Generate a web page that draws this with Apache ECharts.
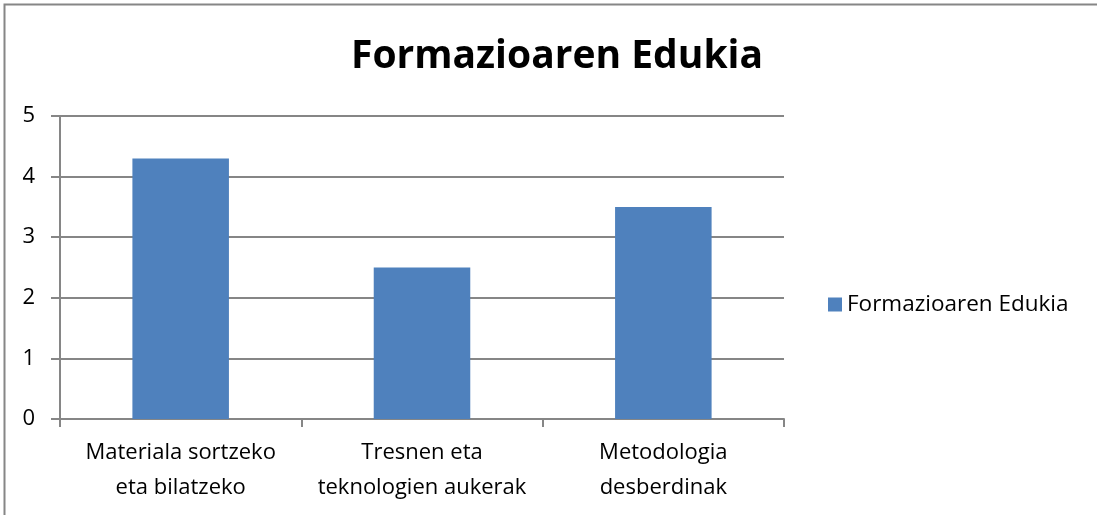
<!DOCTYPE html>
<html>
<head>
<meta charset="utf-8">
<script src="https://cdn.jsdelivr.net/npm/echarts@6/dist/echarts.min.js"></script>
<style>
  html, body { margin: 0; padding: 0; background: #fff; }
  #main { width: 1097px; height: 515px; }
</style>
</head>
<body>
<div id="main"></div>
<script>
var categories = ['Materiala sortzeko\neta bilatzeko', 'Tresnen eta\nteknologien aukerak', 'Metodologia\ndesberdinak'];
var values = [4.3, 2.5, 3.5];
var seriesName = 'Formazioaren Edukia';
var titleText = 'Formazioaren Edukia';

var font = '"Open Sans", "Liberation Sans", sans-serif';
var myChart = echarts.init(document.getElementById('main'));

myChart.setOption({
    animation: false,
    backgroundColor: '#fff',
    graphic: [{
        type: 'rect',
        shape: { x: 4.5, y: 4.5, width: 1200, height: 600 },
        style: { fill: 'none', stroke: '#868686', lineWidth: 2 },
        silent: true
    }],
    title: {
        text: titleText,
        left: 552,
        top: 32,
        textAlign: 'center',
        textStyle: { fontFamily: font, fontWeight: 'bold', fontSize: 39, color: '#000' }
    },
    legend: {
        data: [seriesName],
        left: 823,
        top: 288,
        itemWidth: 14,
        itemHeight: 14,
        itemGap: 6,
        icon: 'rect',
        textStyle: { fontFamily: font, fontSize: 22.5, color: '#000' }
    },
    grid: { left: 60, right: 313, top: 116, bottom: 96, containLabel: false },
    xAxis: {
        type: 'category',
        data: categories,
        axisLine: { lineStyle: { color: '#868686', width: 2 } },
        axisTick: { show: true, length: 8, lineStyle: { color: '#868686', width: 2 } },
        axisLabel: { fontFamily: font, fontSize: 22, color: '#000', lineHeight: 35, margin: 16, interval: 0 }
    },
    yAxis: {
        type: 'value',
        min: 0,
        max: 5,
        interval: 1,
        axisLine: { show: true, lineStyle: { color: '#868686', width: 2 } },
        axisTick: { show: true, length: 9, lineStyle: { color: '#868686', width: 2 } },
        splitLine: { lineStyle: { color: '#868686', width: 2 } },
        axisLabel: { fontFamily: font, fontSize: 22, color: '#000', margin: 25 }
    },
    series: [{
        name: seriesName,
        type: 'bar',
        data: values,
        barWidth: '40%',
        itemStyle: { color: '#4F81BD' }
    }]
});
</script>
</body>
</html>
